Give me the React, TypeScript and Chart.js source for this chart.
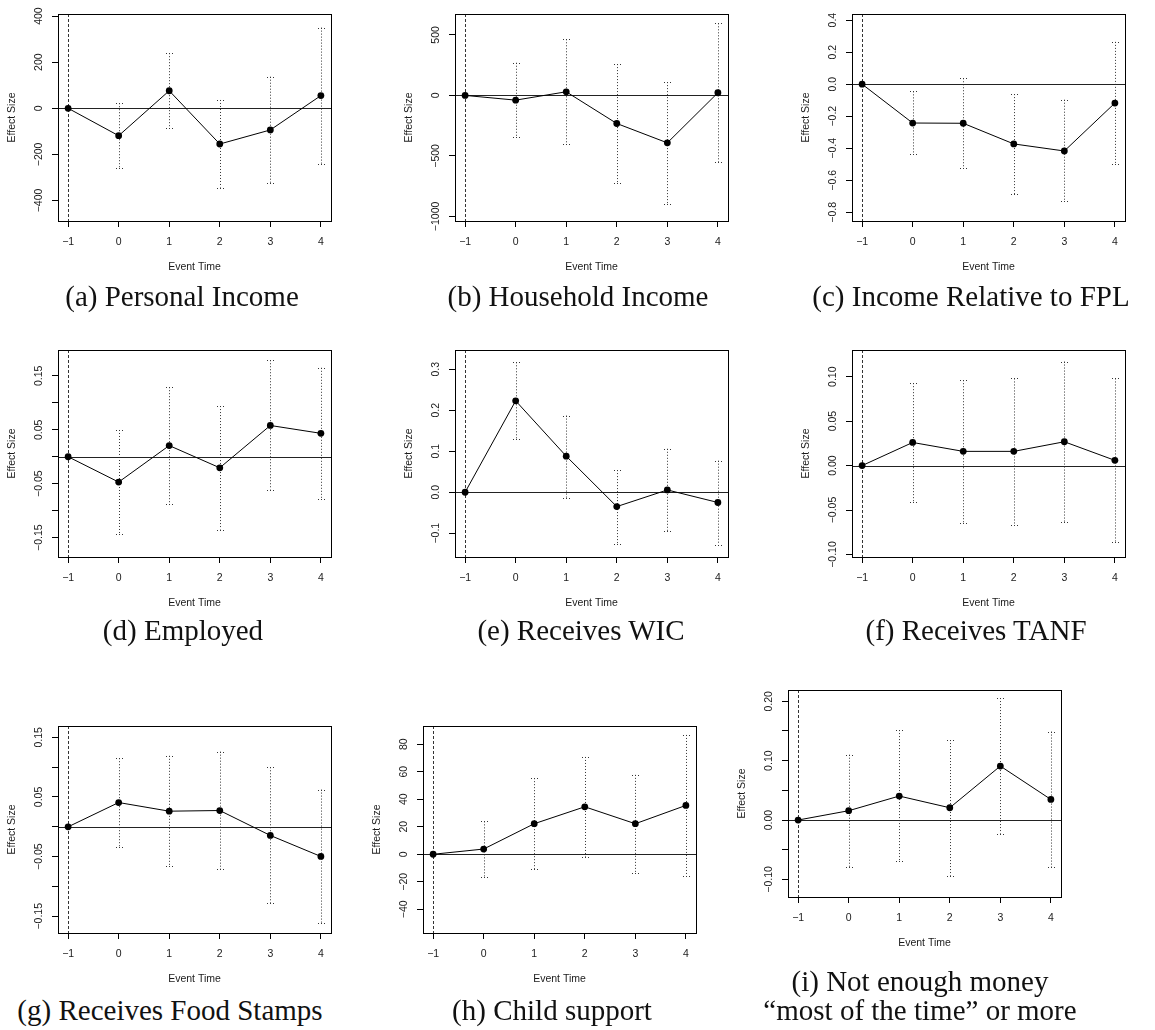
import React, { useEffect, useRef } from 'react';
import { Chart, registerables } from 'chart.js';

Chart.register(...registerables);

const MINUS = '\u2212';

// Shared x axis: event time relative to the reference period
const eventTime = [-1, 0, 1, 2, 3, 4];
const eventTimeLabels = [`${MINUS}1`, '0', '1', '2', '3', '4'];

// (a) Personal Income
const personalIncomeEst = [0, -119, 76, -155, -94, 55];
const personalIncomeLower = [null, -260, -84, -344, -325, -242];
const personalIncomeUpper = [null, 22, 239, 36, 137, 350];
const personalIncomeRange = [-489, 409];
const personalIncomeTicks = [-400, -200, 0, 200, 400];
const personalIncomeTickLabels = [`${MINUS}400`, `${MINUS}200`, '0', '200', '400'];

// (b) Household Income
const householdIncomeEst = [0, -39, 30, -232, -392, 22];
const householdIncomeLower = [null, -343, -403, -728, -894, -550];
const householdIncomeUpper = [null, 270, 464, 259, 110, 596];
const householdIncomeRange = [-1038, 673];
const householdIncomeTicks = [-1000, -500, 0, 500];
const householdIncomeTickLabels = [`${MINUS}1000`, `${MINUS}500`, '0', '500'];

// (c) Income Relative to FPL
const fplEst = [0, -0.2425, -0.244, -0.373, -0.417, -0.118];
const fplLower = [null, -0.437, -0.524, -0.688, -0.731, -0.501];
const fplUpper = [null, -0.045, 0.037, -0.062, -0.097, 0.264];
const fplRange = [-0.854, 0.438];
const fplTicks = [-0.8, -0.6, -0.4, -0.2, 0, 0.2, 0.4];
const fplTickLabels = [`${MINUS}0.8`, `${MINUS}0.6`, `${MINUS}0.4`, `${MINUS}0.2`, '0.0', '0.2', '0.4'];

// (d) Employed
const employedEst = [0, -0.047, 0.0207, -0.0205, 0.058, 0.0434];
const employedLower = [null, -0.144, -0.087, -0.135, -0.061, -0.078];
const employedUpper = [null, 0.0496, 0.129, 0.094, 0.179, 0.165];
const employedRange = [-0.186, 0.198];
const employedTicks = [-0.15, -0.1, -0.05, 0, 0.05, 0.1, 0.15];
const employedTickLabels = [`${MINUS}0.15`, '', `${MINUS}0.05`, '', '0.05', '', '0.15'];

// (e) Receives WIC
const wicEst = [0, 0.223, 0.088, -0.035, 0.0056, -0.025];
const wicLower = [null, 0.129, -0.013, -0.126, -0.0945, -0.128];
const wicUpper = [null, 0.317, 0.187, 0.054, 0.106, 0.077];
const wicRange = [-0.158, 0.347];
const wicTicks = [-0.1, 0, 0.1, 0.2, 0.3];
const wicTickLabels = [`${MINUS}0.1`, '0.0', '0.1', '0.2', '0.3'];

// (f) Receives TANF
const tanfEst = [0, 0.026, 0.016, 0.016, 0.0268, 0.0059];
const tanfLower = [null, -0.0406, -0.0645, -0.0663, -0.0633, -0.086];
const tanfUpper = [null, 0.0927, 0.096, 0.098, 0.117, 0.098];
const tanfRange = [-0.1028, 0.13];
const tanfTicks = [-0.1, -0.05, 0, 0.05, 0.1];
const tanfTickLabels = [`${MINUS}0.10`, `${MINUS}0.05`, '0.00', '0.05', '0.10'];

// (g) Receives Food Stamps
const foodStampsEst = [0, 0.0407, 0.0262, 0.0273, -0.0145, -0.0497];
const foodStampsLower = [null, -0.034, -0.0657, -0.0707, -0.1276, -0.1617];
const foodStampsUpper = [null, 0.115, 0.119, 0.126, 0.0998, 0.0624];
const foodStampsRange = [-0.178, 0.169];
const foodStampsTicks = [-0.15, -0.1, -0.05, 0, 0.05, 0.1, 0.15];
const foodStampsTickLabels = [`${MINUS}0.15`, '', `${MINUS}0.05`, '', '0.05', '', '0.15'];

// (h) Child support
const childSupportEst = [0, 3.8, 22.2, 34.5, 22.2, 35.5];
const childSupportLower = [null, -16.7, -10.9, -1.7, -13.3, -15.5];
const childSupportUpper = [null, 23.9, 55.3, 70.7, 57.7, 86.7];
const childSupportRange = [-57.2, 93.2];
const childSupportTicks = [-40, -20, 0, 20, 40, 60, 80];
const childSupportTickLabels = [`${MINUS}40`, `${MINUS}20`, '0', '20', '40', '60', '80'];

// (i) Not enough money "most of the time" or more
const moneyEst = [0, 0.0157, 0.0404, 0.0207, 0.0909, 0.0347];
const moneyLower = [null, -0.0798, -0.0697, -0.0938, -0.023, -0.0798];
const moneyUpper = [null, 0.11, 0.1515, 0.1347, 0.2054, 0.149];
const moneyRange = [-0.1296, 0.219];
const moneyTicks = [-0.1, -0.05, 0, 0.05, 0.1, 0.15, 0.2];
const moneyTickLabels = [`${MINUS}0.10`, '', '0.00', '', '0.10', '', '0.20'];

// Plot-box geometry (pixels)
const BOX_W = 273;
const BOX_H = 207;
const M_LEFT = 58;
const M_TOP = 12;
const M_RIGHT = 14;
const M_BOTTOM = 60;
const AXIS_FONT = '10.5px "Liberation Sans", Arial, sans-serif';
const INK = '#1a1a1a';

type Panel = {
  key: string;
  est: number[];
  lower: (number | null)[];
  upper: (number | null)[];
  range: number[];
  ticks: number[];
  tickLabels: string[];
  left: number;
  top: number;
};

const panels: Panel[] = [
  { key: 'a', est: personalIncomeEst, lower: personalIncomeLower, upper: personalIncomeUpper, range: personalIncomeRange, ticks: personalIncomeTicks, tickLabels: personalIncomeTickLabels, left: 58, top: 14 },
  { key: 'b', est: householdIncomeEst, lower: householdIncomeLower, upper: householdIncomeUpper, range: householdIncomeRange, ticks: householdIncomeTicks, tickLabels: householdIncomeTickLabels, left: 455, top: 14 },
  { key: 'c', est: fplEst, lower: fplLower, upper: fplUpper, range: fplRange, ticks: fplTicks, tickLabels: fplTickLabels, left: 852, top: 14 },
  { key: 'd', est: employedEst, lower: employedLower, upper: employedUpper, range: employedRange, ticks: employedTicks, tickLabels: employedTickLabels, left: 58, top: 350 },
  { key: 'e', est: wicEst, lower: wicLower, upper: wicUpper, range: wicRange, ticks: wicTicks, tickLabels: wicTickLabels, left: 455, top: 350 },
  { key: 'f', est: tanfEst, lower: tanfLower, upper: tanfUpper, range: tanfRange, ticks: tanfTicks, tickLabels: tanfTickLabels, left: 852, top: 350 },
  { key: 'g', est: foodStampsEst, lower: foodStampsLower, upper: foodStampsUpper, range: foodStampsRange, ticks: foodStampsTicks, tickLabels: foodStampsTickLabels, left: 58, top: 726 },
  { key: 'h', est: childSupportEst, lower: childSupportLower, upper: childSupportUpper, range: childSupportRange, ticks: childSupportTicks, tickLabels: childSupportTickLabels, left: 423, top: 726 },
  { key: 'i', est: moneyEst, lower: moneyLower, upper: moneyUpper, range: moneyRange, ticks: moneyTicks, tickLabels: moneyTickLabels, left: 788, top: 690 },
];

const captions = [
  { lines: ['(a) Personal Income'], cx: 182, baseline: 306.5 },
  { lines: ['(b) Household Income'], cx: 578, baseline: 306.5 },
  { lines: ['(c) Income Relative to FPL'], cx: 971, baseline: 306.5 },
  { lines: ['(d) Employed'], cx: 183, baseline: 640 },
  { lines: ['(e) Receives WIC'], cx: 581, baseline: 640 },
  { lines: ['(f) Receives TANF'], cx: 976, baseline: 640 },
  { lines: ['(g) Receives Food Stamps'], cx: 170, baseline: 1020 },
  { lines: ['(h) Child support'], cx: 552, baseline: 1020 },
  { lines: ['(i) Not enough money', '\u201Cmost of the time\u201D or more'], cx: 920, baseline: 991 },
];

function decorations(p: Panel) {
  return {
    id: 'eventStudyDecor',
    beforeDatasetsDraw(chart: any) {
      const { ctx, chartArea: a, scales } = chart;
      const xs = scales.x;
      const ys = scales.y;
      ctx.save();
      ctx.lineWidth = 1;

      // confidence intervals: dotted whiskers with dotted caps
      ctx.strokeStyle = '#333';
      ctx.setLineDash([1, 2]);
      eventTime.forEach((t, i) => {
        const lo = p.lower[i];
        const hi = p.upper[i];
        if (lo == null || hi == null) return;
        const px = Math.round(xs.getPixelForValue(t)) + 0.5;
        const yl = ys.getPixelForValue(lo);
        const yh = ys.getPixelForValue(hi);
        ctx.beginPath();
        ctx.moveTo(px, yh);
        ctx.lineTo(px, yl);
        ctx.stroke();
        ctx.beginPath();
        ctx.moveTo(px - 3.5, Math.round(yh) + 0.5);
        ctx.lineTo(px + 3.5, Math.round(yh) + 0.5);
        ctx.moveTo(px - 3.5, Math.round(yl) + 0.5);
        ctx.lineTo(px + 3.5, Math.round(yl) + 0.5);
        ctx.stroke();
      });

      // zero effect line
      ctx.setLineDash([]);
      ctx.strokeStyle = '#222';
      const y0 = Math.round(ys.getPixelForValue(0)) + 0.5;
      ctx.beginPath();
      ctx.moveTo(a.left, y0);
      ctx.lineTo(a.right, y0);
      ctx.stroke();

      // reference period marker
      ctx.setLineDash([3, 2]);
      ctx.strokeStyle = '#333';
      const xr = Math.round(xs.getPixelForValue(-1)) + 0.5;
      ctx.beginPath();
      ctx.moveTo(xr, a.top);
      ctx.lineTo(xr, a.bottom);
      ctx.stroke();
      ctx.restore();
    },
    afterDraw(chart: any) {
      const { ctx, chartArea: a, scales } = chart;
      const xs = scales.x;
      const ys = scales.y;
      ctx.save();
      ctx.strokeStyle = '#000';
      ctx.lineWidth = 1;
      ctx.setLineDash([]);
      ctx.strokeRect(Math.round(a.left) + 0.5, Math.round(a.top) + 0.5, Math.round(a.right - a.left), Math.round(a.bottom - a.top));

      ctx.fillStyle = INK;
      ctx.font = AXIS_FONT;
      ctx.textAlign = 'center';
      ctx.textBaseline = 'middle';
      eventTime.forEach((t, i) => {
        ctx.fillText(eventTimeLabels[i], xs.getPixelForValue(t), a.bottom + 20.7);
      });
      ctx.fillText('Event Time', (a.left + a.right) / 2, a.bottom + 45.7);

      p.ticks.forEach((v, i) => {
        const label = p.tickLabels[i];
        if (!label) return;
        ctx.save();
        ctx.translate(a.left - 19.3, ys.getPixelForValue(v));
        ctx.rotate(-Math.PI / 2);
        ctx.fillText(label, 0, 0);
        ctx.restore();
      });

      ctx.save();
      ctx.translate(a.left - 45.5, (a.top + a.bottom) / 2);
      ctx.rotate(-Math.PI / 2);
      ctx.fillText('Effect Size', 0, 0);
      ctx.restore();
      ctx.restore();
    },
  };
}

function PanelChart({ p }: { p: Panel }) {
  const ref = useRef<HTMLCanvasElement | null>(null);
  useEffect(() => {
    if (!ref.current) return;
    const chart = new Chart(ref.current, {
      type: 'line',
      data: {
        datasets: [
          {
            data: eventTime.map((t, i) => ({ x: t, y: p.est[i] })),
            borderColor: '#000',
            borderWidth: 1,
            pointRadius: 3.4,
            pointBackgroundColor: '#000',
            pointBorderColor: '#000',
            pointBorderWidth: 0,
            tension: 0,
            fill: false,
            clip: false as any,
          },
        ],
      },
      options: {
        responsive: false,
        animation: false,
        devicePixelRatio: 1,
        events: [],
        layout: { padding: { top: M_TOP, right: M_RIGHT, left: 0, bottom: 0 } },
        plugins: { legend: { display: false }, tooltip: { enabled: false } },
        scales: {
          x: {
            type: 'linear',
            min: -1.2,
            max: 4.2,
            afterBuildTicks: (s: any) => {
              s.ticks = eventTime.map((v) => ({ value: v }));
            },
            afterFit: (s: any) => {
              s.height = M_BOTTOM;
            },
            ticks: { display: false },
            border: { display: false },
            grid: { drawOnChartArea: false, drawTicks: true, tickLength: 6, color: '#000', lineWidth: 1 },
          },
          y: {
            type: 'linear',
            min: p.range[0],
            max: p.range[1],
            afterBuildTicks: (s: any) => {
              s.ticks = p.ticks.map((v) => ({ value: v }));
            },
            afterFit: (s: any) => {
              s.width = M_LEFT;
            },
            ticks: { display: false },
            border: { display: false },
            grid: { drawOnChartArea: false, drawTicks: true, tickLength: 6, color: '#000', lineWidth: 1 },
          },
        },
      } as any,
      plugins: [decorations(p)],
    });
    return () => chart.destroy();
  }, [p]);

  return (
    <canvas
      ref={ref}
      width={M_LEFT + BOX_W + M_RIGHT}
      height={M_TOP + BOX_H + M_BOTTOM}
      style={{ position: 'absolute', left: p.left - M_LEFT, top: p.top - M_TOP }}
    />
  );
}

export default function App() {
  const capSize = 29;
  const capLine = 29;
  const baselineOffset = (capLine - 1.107 * capSize) / 2 + 0.891 * capSize;
  return (
    <div style={{ position: 'absolute', left: 0, top: 0, width: 1155, height: 1030, background: '#fff', overflow: 'hidden' }}>
      {panels.map((p) => (
        <PanelChart key={p.key} p={p} />
      ))}
      {captions.map((c, i) => (
        <div
          key={i}
          style={{
            position: 'absolute',
            left: c.cx - 250,
            width: 500,
            top: c.baseline - baselineOffset,
            textAlign: 'center',
            fontFamily: '"Liberation Serif", serif',
            fontSize: capSize,
            lineHeight: `${capLine}px`,
            color: '#111',
            whiteSpace: 'nowrap',
          }}
        >
          {c.lines.map((l, j) => (
            <div key={j}>{l}</div>
          ))}
        </div>
      ))}
    </div>
  );
}
